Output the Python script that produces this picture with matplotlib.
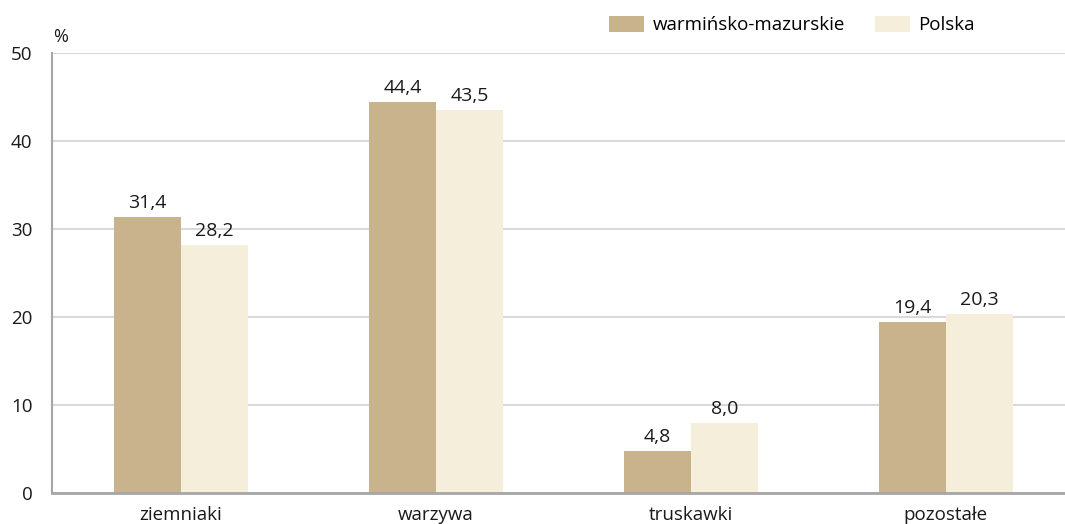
import numpy as np
import matplotlib.pyplot as plt

plt.rcParams['font.family'] = ['Open Sans', 'DejaVu Sans']

categories = ["ziemniaki", "warzywa", "truskawki", "pozostałe"]
wm = [31.4, 44.4, 4.8, 19.4]
pl = [28.2, 43.5, 8.0, 20.3]
series_names = ["warmińsko-mazurskie", "Polska"]
yticks = [0, 10, 20, 30, 40, 50]

c_wm = "#C9B38C"
c_pl = "#F4EEDB"

fig = plt.figure(figsize=(10.65, 5.24), dpi=100)
ax = fig.add_axes([52 / 1065, 1 - 493 / 524, (1065 - 52) / 1065, (493 - 53) / 524])

x = np.arange(len(categories))
w = 0.263
b1 = ax.bar(x - w / 2, wm, w, color=c_wm, label=series_names[0], zorder=2)
b2 = ax.bar(x + w / 2, pl, w, color=c_pl, label=series_names[1], zorder=2)

for bars, vals in ((b1, wm), (b2, pl)):
    for r, v in zip(bars, vals):
        ax.annotate(f"{v:.1f}".replace(".", ","), (r.get_x() + r.get_width() / 2, v),
                    xytext=(0, 3.5), textcoords="offset points",
                    ha="center", va="bottom", fontsize=14, color="#1a1a1a")

ax.set_xlim(-0.506, 3.467)
ax.set_ylim(0, 50)
ax.set_yticks(yticks)
ax.set_xticks(x)
ax.set_xticklabels(categories)
ax.yaxis.grid(True, color="#D9D9D9", linewidth=1.5, zorder=0)
ax.set_axisbelow(True)
for s in ("top", "right"):
    ax.spines[s].set_visible(False)
ax.spines["left"].set_color("#A6A6A6")
ax.spines["left"].set_linewidth(1.5)
ax.spines["bottom"].set_color("#A6A6A6")
ax.spines["bottom"].set_linewidth(2)
ax.tick_params(axis="both", length=0, labelsize=13.5, colors="#1a1a1a")
ax.tick_params(axis="y", pad=14)
ax.tick_params(axis="x", pad=9)

fig.text(53 / 1065, 1 - 37 / 524, "%", fontsize=13, va="center", ha="left", color="#1a1a1a")

fig.legend(loc="center", bbox_to_anchor=(792 / 1065, 1 - 25 / 524), ncol=2, frameon=False,
           fontsize=13.5, handlelength=1.85, handleheight=1.0, columnspacing=1.6,
           handletextpad=0.45)

fig.savefig("out.png", dpi=100)
